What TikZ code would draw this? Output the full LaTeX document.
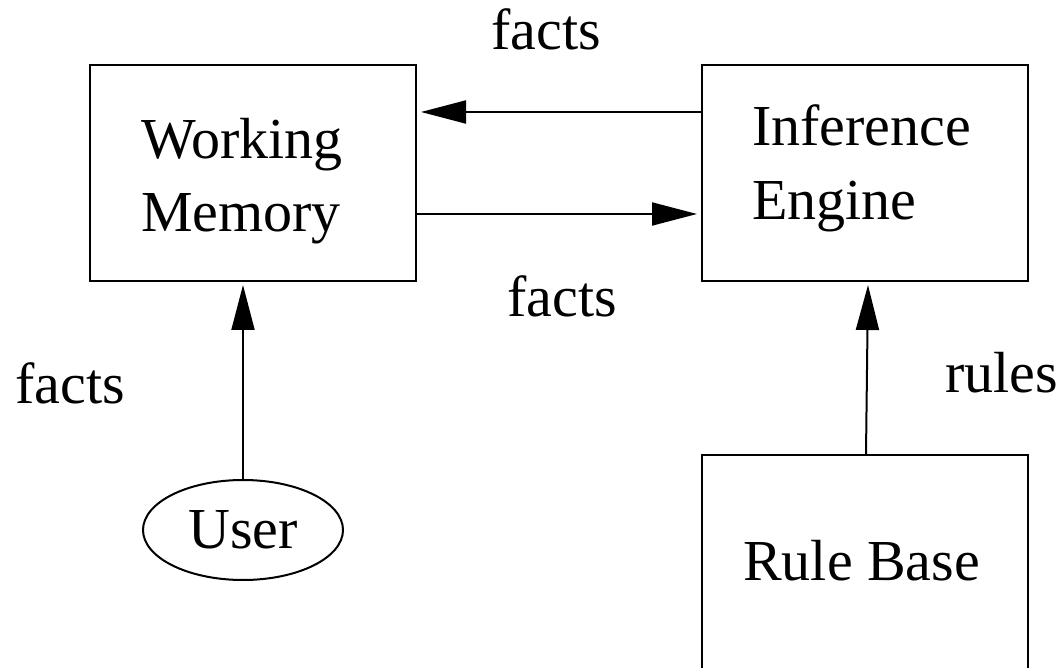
\documentclass[tikz,border=0pt]{standalone}
\usepackage{fontspec}
\setmainfont{Liberation Serif}
\usetikzlibrary{arrows.meta,shapes.geometric,calc}
\tikzset{
  block/.style={draw, line width=2pt, rectangle, inner sep=0pt},
  oval/.style={draw, line width=2pt, ellipse, minimum width=200pt, minimum height=100pt, inner sep=0pt},
  txt/.style={anchor=base west, inner sep=0pt},
  flow/.style={line width=2pt, -{Triangle[length=45pt,width=23pt]}},
}
\begin{document}
\begin{tikzpicture}[x=1pt, y=-1pt, font=\fontsize{58}{73}\selectfont]
\useasboundingbox (0,0) rectangle (1061,668);
\clip (0,0) rectangle (1061,668);
\fill[white] (0,0) rectangle (1061,668);

% components
\node[block, minimum width=326pt, minimum height=216pt] (wm) at (253,173) {};
\node[block, minimum width=326pt, minimum height=216pt] (ie) at (865,173) {};
\node[block, minimum width=326pt, minimum height=260pt] (rb) at (865,585) {};
\node[oval] (user) at (243,530) {User};

% box captions
\node[txt] (wm1) at (141,159) {Working};
\node[txt] (wm2) at (141,232) {Memory};
\node[txt] (ie1) at (752,146) {Inference};
\node[txt] (ie2) at (752,220) {Engine};
\node[txt] (rb1) at (743,580) {Rule Base};

% connectors
\draw[flow, shorten >=4pt] (ie.west |- 0,112) -- (wm.east |- 0,112);
\draw[flow, shorten >=4pt] ([xshift=-2pt]wm.east |- 0,214) -- (ie.west |- 0,214);
\draw[flow, shorten >=3pt] (user.north) -- (user.north |- wm.south);
\draw[flow] ([xshift=1pt]rb.north) -- ([xshift=3pt,yshift=-3pt]ie.south);

% connector labels
\node[txt] (l1) at (491,50) {facts};
\node[txt] (l2) at (507,317) {facts};
\node[txt] (l3) at (15,403) {facts};
\node[txt] (l4) at (945,393) {rules};
\end{tikzpicture}
\end{document}
